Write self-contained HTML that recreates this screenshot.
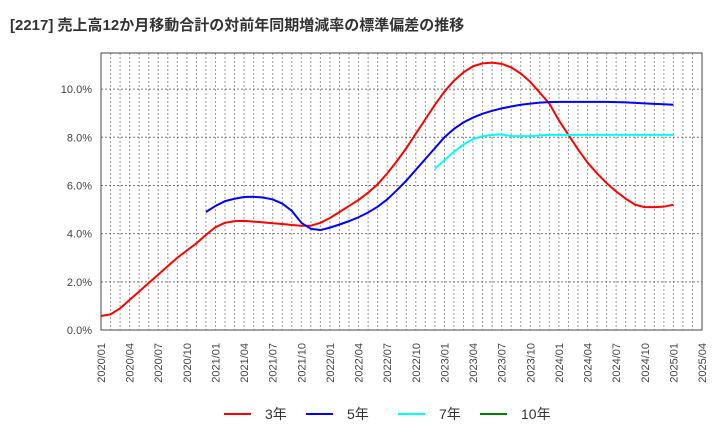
<!DOCTYPE html>
<html><head><meta charset="utf-8"><style>
body{margin:0;background:#fff;width:720px;height:440px;overflow:hidden;font-family:"Liberation Sans","Noto Sans CJK JP",sans-serif;}
</style></head><body>
<svg id="chart" width="720" height="440" xmlns="http://www.w3.org/2000/svg">
<text x="10" y="30" font-size="15" font-weight="bold" fill="#333" font-family="Liberation Sans,Noto Sans CJK JP,sans-serif">[2217]  売上高12か月移動合計の対前年同期増減率の標準偏差の推移</text>
<g id="grid"></g><g id="axes"></g><g id="series"></g><g id="legend"></g>
</svg>
<script>
const months = 64;
const yTicks = [0,2,4,6,8,10];
const s3 = [0.58,0.65,0.9,1.25,1.6,1.95,2.3,2.65,3.0,3.3,3.6,3.95,4.27,4.45,4.52,4.53,4.5,4.47,4.43,4.4,4.36,4.33,4.33,4.45,4.65,4.9,5.15,5.4,5.7,6.05,6.5,7.0,7.55,8.15,8.75,9.35,9.9,10.35,10.7,10.95,11.07,11.1,11.05,10.9,10.65,10.3,9.85,9.4,8.7,8.1,7.5,6.95,6.5,6.1,5.75,5.45,5.2,5.1,5.1,5.12,5.2];
const s5start = 11;
const s5 = [4.9,5.15,5.35,5.45,5.52,5.53,5.5,5.42,5.25,4.95,4.45,4.2,4.15,4.25,4.38,4.52,4.68,4.88,5.12,5.42,5.8,6.2,6.65,7.1,7.55,8.0,8.35,8.62,8.82,8.98,9.1,9.2,9.28,9.35,9.4,9.44,9.46,9.47,9.47,9.47,9.47,9.47,9.47,9.46,9.45,9.43,9.41,9.39,9.37,9.35];
const s7start = 35;
const s7 = [6.7,7.05,7.4,7.7,7.92,8.05,8.1,8.12,8.05,8.05,8.05,8.08,8.1,8.1,8.1,8.1,8.1,8.1,8.1,8.1,8.1,8.1,8.1,8.1,8.1,8.1];
const s10 = [];
const X0=101,X1=702,Y0=330,Y1=53,YMAX=11.5;
const x=i=>X0+(X1-X0)*i/(months-1);
const y=v=>Y0-(Y0-Y1)*v/YMAX;
const NS="http://www.w3.org/2000/svg";
function mk(t,a,p){const e=document.createElementNS(NS,t);for(const k in a)e.setAttribute(k,a[k]);p.appendChild(e);return e;}
const grid=document.getElementById('grid'),axes=document.getElementById('axes'),ser=document.getElementById('series'),leg=document.getElementById('legend');
for(let i=1;i<months-1;i++){const l=mk('line',{x1:x(i),x2:x(i),y1:Y1,y2:Y0,stroke:'#999','stroke-dasharray':'2,2','stroke-width':1},grid);

}
yTicks.forEach(v=>{if(v>0){const l=mk('line',{x1:X0,x2:X1,y1:y(v),y2:y(v),stroke:'#777','stroke-dasharray':'2,2','stroke-width':1},grid);

}
const t=mk('text',{x:92,y:y(v)+4,'font-size':11,fill:'#444','text-anchor':'end'},axes);t.textContent=v.toFixed(1)+'%';

});
const fr=mk('rect',{x:X0,y:Y1,width:X1-X0,height:Y0-Y1,fill:'none',stroke:'#444','stroke-width':1},axes);


for(let i=0;i<months;i+=3){const yr=2020+Math.floor(i/12),mo=i%12+1;
const t=mk('text',{transform:`translate(${x(i)+4},343) rotate(-90)`,'font-size':11,fill:'#444','text-anchor':'end'},axes);
t.textContent=yr+'/'+String(mo).padStart(2,'0');

}
function line(data,start,color,name){if(!data.length)return;const p=mk('polyline',{points:data.map((v,i)=>x(i+start)+','+y(v)).join(' '),fill:'none',stroke:color,'stroke-width':2,'stroke-linejoin':'round'},ser);

}
line(s3,0,'#ff0000','series-3yr');line(s5,s5start,'#0000ff','series-5yr');line(s7,s7start,'#00ffff','series-7yr');line(s10,0,'#008000','series-10yr');
[['3年','#ff0000',224],['5年','#0000ff',306],['7年','#00ffff',398],['10年','#008000',480]].forEach(([n,c,lx])=>{
const g=mk('g',{},leg);


mk('line',{x1:lx,x2:lx+27,y1:414,y2:414,stroke:c,'stroke-width':2},g);
const t=mk('text',{x:lx+41,y:419,'font-size':14,fill:'#333'},g);t.textContent=n;});
</script>
</body></html>
